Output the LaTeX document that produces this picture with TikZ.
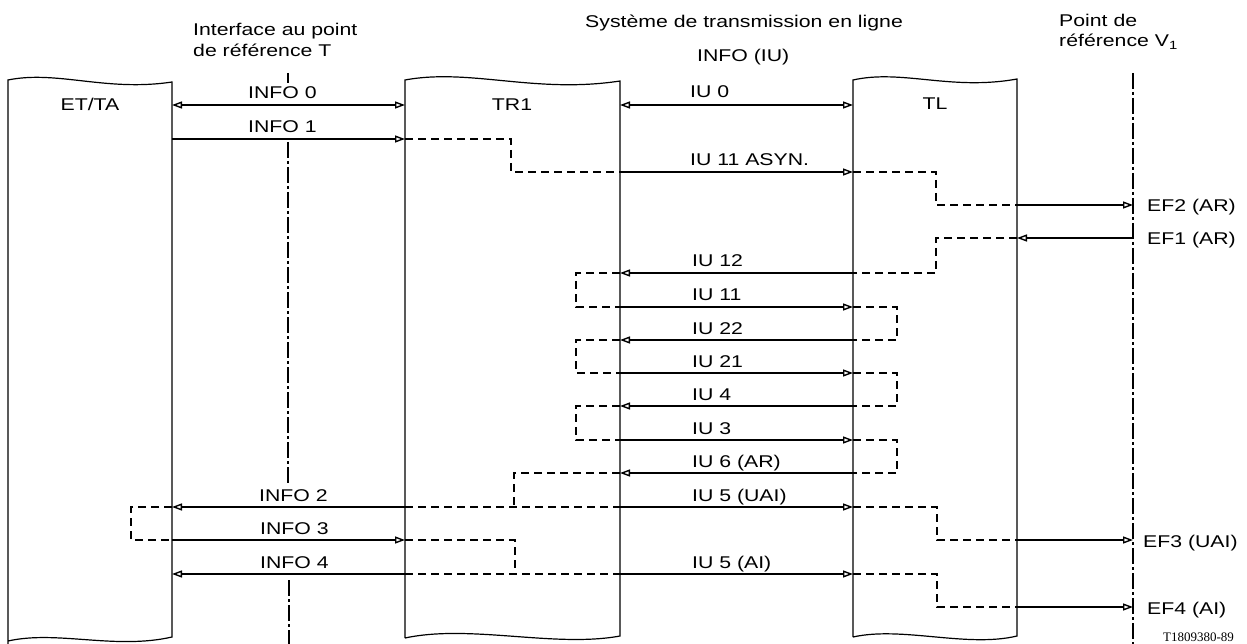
\documentclass[tikz,border=0pt]{standalone}
\usepackage{fontspec}
\setmainfont[FakeStretch=1.25]{Liberation Sans}
\newfontfamily\codefont{Liberation Serif}
\usetikzlibrary{arrows.meta}

\begin{document}
\begin{tikzpicture}[x=1pt, y=-1pt]
\tikzstyle{block}=[line width=1.2]
\tikzstyle{sig}=[line width=1.4, -{Triangle[open, length=10pt, width=7pt]}]
\tikzstyle{sig_d}=[line width=1.4, {Triangle[open, length=10pt, width=7pt]}-{Triangle[open, length=10pt, width=7pt]}]
\tikzstyle{jog}=[line width=1.3, dash pattern=on 8pt off 5pt]
\tikzstyle{refline}=[line width=1.2, dash pattern=on 16pt off 3pt on 3pt off 3pt]
\tikzstyle{lbl}=[font=\fontsize{17}{20}\selectfont, inner sep=0pt, anchor=base west]

\useasboundingbox (0,0) rectangle (1247,644);

% blocks
\draw[block] (8,644) -- (8,80) .. controls (57,70) and (106,92) .. (172,82) -- (172,637) .. controls (115,650) and (57,630) .. (8,641);
\draw[block] (405,638) -- (405,80) .. controls (470,68) and (535,94) .. (620,81) -- (620,636) .. controls (555,648) and (470,624) .. (405,638);
\draw[block] (853,637) -- (853,80) .. controls (902,69) and (951,91) .. (1017,79) -- (1017,636) .. controls (967,648) and (902,626) .. (853,637);

\coordinate (ETr) at (172,0);
\coordinate (TRl) at (405,0);
\coordinate (TRr) at (620,0);
\coordinate (TLl) at (853,0);
\coordinate (TLr) at (1017,0);
\coordinate (V) at (1133,0);

\path (90,111) node[lbl, anchor=base](et) {ET/TA}
      (512,111) node[lbl, anchor=base](tr) {TR1}
      (935,110) node[lbl, anchor=base](tl) {TL};

% titles
\path (193,36) node[lbl](t1) {Interface au point}
      (193,57) node[lbl](t2) {de référence T}
      (585,28) node[lbl](s1) {Système de transmission en ligne}
      (697,62) node[lbl](s2) {INFO (IU)}
      (1059,27) node[lbl](v1) {Point de}
      (1059,47) node[lbl](v2) {référence V\textsubscript{1}};

% reference lines
\draw[line width=1.2] (288,73) -- (288,83);
\draw[refline] (288,142) -- (288,485);
\draw[refline] (289,580) -- (289,644);
\draw[refline] (V |- 0,73) -- (V |- 0,644);

% activation
\draw[sig_d] (ETr |- 0,105) -- (TRl |- 0,105);
\draw[sig_d] (TRr |- 0,105) -- (TLl |- 0,105);
\draw[sig] (ETr |- 0,139) -- (TRl |- 0,139);
\draw[jog] (TRl |- 0,139) -- (511,139) -- (511,172) -- (TRr |- 0,172);
\draw[sig] (TRr |- 0,172) -- (TLl |- 0,172);
\draw[jog] (TLl |- 0,172) -- (936,172) -- (936,205) -- (TLr |- 0,205);
\draw[sig] (TLr |- 0,205) -- (V |- 0,205);
\draw[sig] (V |- 0,238) -- (TLr |- 0,238);
\draw[jog] (TLr |- 0,238) -- (936,238) -- (936,273) -- (TLl |- 0,273);

\foreach \y in {273, 340, 406, 473}
  \draw[sig] (TLl |- 0,\y) -- (TRr |- 0,\y);
\foreach \y in {307, 373, 440}
  \draw[sig] (TRr |- 0,\y) -- (TLl |- 0,\y);
\foreach \ya/\yb in {273/307, 340/373, 406/440}
  \draw[jog] (TRr |- 0,\ya) -- (576,\ya) -- (576,\yb) -- (TRr |- 0,\yb);
\foreach \ya/\yb in {307/340, 373/406, 440/473}
  \draw[jog] (TLl |- 0,\ya) -- (897,\ya) -- (897,\yb) -- (TLl |- 0,\yb);

% deactivation
\draw[jog] (TRr |- 0,473) -- (514,473) -- (514,507);
\draw[jog] (TRl |- 0,507) -- (TRr |- 0,507);
\draw[sig] (TRr |- 0,507) -- (TLl |- 0,507);
\draw[sig] (TRl |- 0,507) -- (ETr |- 0,507);
\draw[jog] (TLl |- 0,507) -- (937,507) -- (937,540) -- (TLr |- 0,540);
\draw[sig] (TLr |- 0,540) -- (V |- 0,540);
\draw[jog] (ETr |- 0,507) -- (131,507) -- (131,540) -- (ETr |- 0,540);
\draw[sig] (ETr |- 0,540) -- (TRl |- 0,540);
\draw[jog] (TRl |- 0,540) -- (515,540) -- (515,574);
\draw[jog] (TRl |- 0,574) -- (TRr |- 0,574);
\draw[sig] (TRl |- 0,574) -- (ETr |- 0,574);
\draw[sig] (TRr |- 0,574) -- (TLl |- 0,574);
\draw[jog] (TLl |- 0,574) -- (937,574) -- (937,607) -- (TLr |- 0,607);
\draw[sig] (TLr |- 0,607) -- (V |- 0,607);

% labels
\path (248,99) node[lbl](i0) {INFO 0}
      (248,133) node[lbl](i1) {INFO 1}
      (259,501) node[lbl](i2) {INFO 2}
      (260,534) node[lbl](i3) {INFO 3}
      (260,568) node[lbl](i4) {INFO 4};
\path (690,98) node[lbl](u0) {IU 0}
      (690,166) node[lbl](u11a) {IU 11 ASYN.}
      (692,267) node[lbl](u12) {IU 12}
      (692,301) node[lbl](u11) {IU 11}
      (692,334) node[lbl](u22) {IU 22}
      (692,367) node[lbl](u21) {IU 21}
      (692,400) node[lbl](u4) {IU 4}
      (692,434) node[lbl](u3) {IU 3}
      (692,467) node[lbl](u6) {IU 6 (AR)}
      (692,501) node[lbl](u5u) {IU 5 (UAI)}
      (692,568) node[lbl](u5a) {IU 5 (AI)};
\path (1147,212) node[lbl](ef2) {EF2 (AR)}
      (1147,245) node[lbl](ef1) {EF1 (AR)}
      (1143,547) node[lbl](ef3) {EF3 (UAI)}
      (1147,614) node[lbl](ef4) {EF4 (AI)};
\node[lbl, font=\codefont\fontsize{13}{15}\selectfont] (code) at (1163,641) {T1809380-89};

\end{tikzpicture}
\end{document}
